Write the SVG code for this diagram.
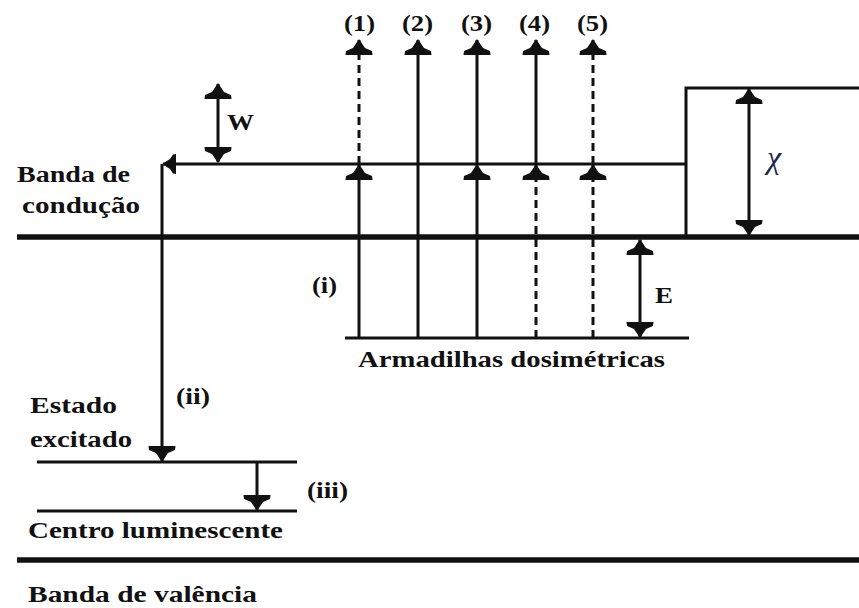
<svg xmlns="http://www.w3.org/2000/svg" width="859" height="608" viewBox="0 0 859 608">
<style>
.t{font-family:"Liberation Serif","Times New Roman",serif;font-weight:bold;font-size:23px;fill:#111}
.thin{stroke:#111;stroke-width:3;fill:none}
.thick{stroke:#111;stroke-width:5.5;fill:none}
.dash{stroke-dasharray:8 5}
.arr{marker-end:url(#ah)}
.dbl{marker-start:url(#ah);marker-end:url(#ah)}
</style>
<defs>
<marker id="ah" markerUnits="userSpaceOnUse" viewBox="0 -14 16 28" markerWidth="16" markerHeight="28" refX="15" refY="0" orient="auto-start-reverse">
<path d="M16,0 L7,-6 L4,-13 L0,-13.5 L0,13.5 L4,13 L7,6 Z" fill="#111"/>
</marker>
<marker id="ahs" markerUnits="userSpaceOnUse" viewBox="0 -10 14 20" markerWidth="14" markerHeight="20" refX="13" refY="0" orient="auto">
<path d="M14,0 L6,-5 L3,-9.5 L0,-10 L0,10 L3,9.5 L6,5 Z" fill="#111"/>
</marker>
</defs>
<g id="bands">
<line class="thick" x1="17" y1="237" x2="859" y2="237"/>
<line class="thick" x1="17" y1="560" x2="859" y2="560"/>
<polyline class="thin" points="686,237 686,88 859,88"/>
<line class="thin" x1="345" y1="338" x2="689" y2="338"/>
<line class="thin" x1="37" y1="462" x2="297" y2="462"/>
<line class="thin" x1="37" y1="511" x2="297" y2="511"/>
</g>
<g id="connectors">
<line class="thin" x1="686" y1="164" x2="163" y2="164" marker-end="url(#ahs)"/>
<line class="thin arr" x1="162" y1="164" x2="162" y2="461"/>
<line class="thin arr" x1="257" y1="462" x2="257" y2="510"/>
<line class="thin dbl" x1="218" y1="84" x2="218" y2="162"/>
<line class="thin dbl" x1="749" y1="89" x2="749" y2="235"/>
<line class="thin dbl" x1="640" y1="240" x2="640" y2="337"/>
<line class="thin arr" x1="359" y1="338" x2="359" y2="165"/>
<line class="thin arr dash" x1="359" y1="164" x2="359" y2="40"/>
<line class="thin arr" x1="418" y1="338" x2="418" y2="40"/>
<line class="thin arr" x1="477" y1="338" x2="477" y2="165"/>
<line class="thin arr" x1="477" y1="164" x2="477" y2="40"/>
<line class="thin arr dash" x1="536" y1="338" x2="536" y2="165"/>
<line class="thin arr" x1="536" y1="164" x2="536" y2="40"/>
<line class="thin arr dash" x1="593" y1="338" x2="593" y2="165"/>
<line class="thin arr dash" x1="593" y1="164" x2="593" y2="40"/>
</g>
<g id="labels">
<text class="t" x="344" y="31" textLength="31" lengthAdjust="spacingAndGlyphs">(1)</text>
<text class="t" x="402" y="31" textLength="31" lengthAdjust="spacingAndGlyphs">(2)</text>
<text class="t" x="461" y="31" textLength="31" lengthAdjust="spacingAndGlyphs">(3)</text>
<text class="t" x="519" y="31" textLength="31" lengthAdjust="spacingAndGlyphs">(4)</text>
<text class="t" x="577" y="31" textLength="31" lengthAdjust="spacingAndGlyphs">(5)</text>
<text class="t" x="227" y="130" textLength="27" lengthAdjust="spacingAndGlyphs">W</text>
<text x="767" y="168" style="font-family:'Liberation Serif',serif;font-style:italic;font-size:32px;fill:#1a2a4a">χ</text>
<text class="t" x="17" y="182" textLength="113" lengthAdjust="spacingAndGlyphs">Banda de</text>
<text class="t" x="22" y="213" textLength="118" lengthAdjust="spacingAndGlyphs">condução</text>
<text class="t" x="312" y="293" textLength="25" lengthAdjust="spacingAndGlyphs">(i)</text>
<text class="t" x="655" y="303" textLength="18" lengthAdjust="spacingAndGlyphs">E</text>
<text class="t" x="358" y="367" textLength="307" lengthAdjust="spacingAndGlyphs">Armadilhas dosimétricas</text>
<text class="t" x="176" y="404" textLength="34" lengthAdjust="spacingAndGlyphs">(ii)</text>
<text class="t" x="30" y="413" textLength="87" lengthAdjust="spacingAndGlyphs">Estado</text>
<text class="t" x="30" y="447" textLength="102" lengthAdjust="spacingAndGlyphs">excitado</text>
<text class="t" x="307" y="498" textLength="41" lengthAdjust="spacingAndGlyphs">(iii)</text>
<text class="t" x="28" y="538" textLength="255" lengthAdjust="spacingAndGlyphs">Centro luminescente</text>
<text class="t" x="28" y="602" textLength="229" lengthAdjust="spacingAndGlyphs">Banda de valência</text>
</g>
</svg>
